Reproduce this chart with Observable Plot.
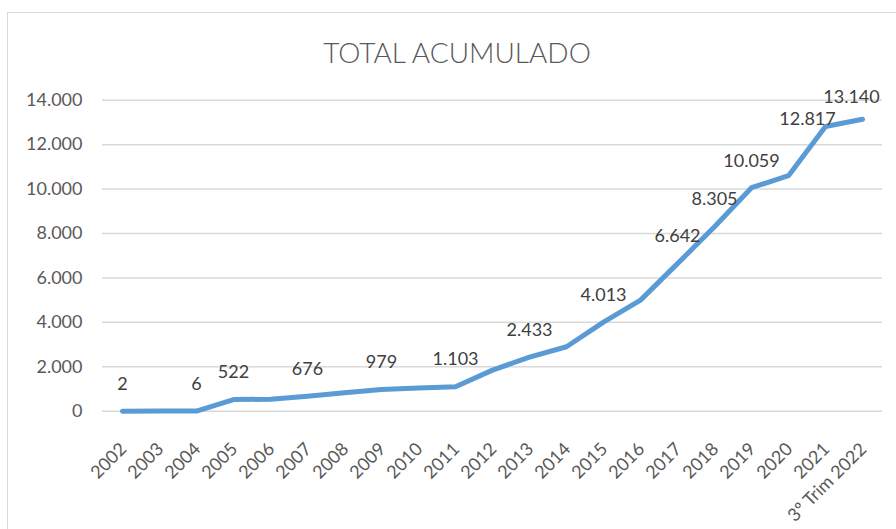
<!DOCTYPE html>
<html>
<head>
<meta charset="utf-8">
<script src="https://cdn.jsdelivr.net/npm/d3@7"></script>
<script src="https://cdn.jsdelivr.net/npm/@observablehq/plot@0.6"></script>
<style>
  html, body { margin: 0; padding: 0; background: #fff; overflow: hidden; }
  #wrap { position: relative; width: 896px; height: 529px; font-family: Lato, "Open Sans", sans-serif; }
  #border { position: absolute; left: 7px; top: 12px; width: 900px; height: 530px; border: 1.5px solid #d9d9d9; box-sizing: border-box; }
  #title { position: absolute; left: 0; width: 914px; top: 35px; text-align: center; font-size: 28px; font-weight: 300; color: #595959; line-height: 34px; }
  #chart { position: absolute; left: 0; top: 0; }
</style>
</head>
<body>
<div id="wrap">
  <div id="border"></div>
  <div id="chart"></div>
  <div id="title">TOTAL ACUMULADO</div>
</div>
<script>
const categories = ["2002","2003","2004","2005","2006","2007","2008","2009","2010","2011","2012","2013","2014","2015","2016","2017","2018","2019","2020","2021","3º Trim 2022"];
const values = [2, 4, 6, 522, 540, 676, 830, 979, 1040, 1103, 1850, 2433, 2900, 4013, 5000, 6642, 8305, 10059, 10600, 12817, 13140];
const labeled = [true, false, true, true, false, true, false, true, false, true, false, true, false, true, false, true, true, true, false, true, true];
const yTicks = [0, 2000, 4000, 6000, 8000, 10000, 12000, 14000];

const data = categories.map((c, i) => ({cat: c, value: values[i], labeled: labeled[i]}));
const fmt = d3.formatLocale({decimal: ",", thousands: ".", grouping: [3], currency: ["", ""]}).format(",d");

const last2 = data.slice(-2);
const normalLabels = data.filter(d => d.labeled && !last2.includes(d));

const chart = Plot.plot({
  width: 896,
  height: 529,
  marginLeft: 102,
  marginRight: 14,
  marginTop: 99.7,
  marginBottom: 118.3,
  style: {fontFamily: "Lato, 'Open Sans', sans-serif", background: "transparent"},
  x: {type: "point", domain: categories, padding: 0.5, axis: null},
  y: {domain: [0, 14000], axis: null},
  marks: [
    Plot.ruleY(yTicks, {stroke: "#d9d9d9", strokeWidth: 1.5}),
    Plot.text(yTicks, {y: d => d, frameAnchor: "left", text: d => fmt(d), textAnchor: "end", dx: -20, fontSize: 18, fill: "#595959"}),
    Plot.text(categories, {x: d => d, frameAnchor: "bottom", text: d => d, rotate: -45, textAnchor: "end", lineAnchor: "top", dx: -4, dy: 30, fontSize: 18, fill: "#595959"}),
    Plot.line(data, {x: "cat", y: "value", stroke: "#5B9BD5", strokeWidth: 5, strokeLinejoin: "round", strokeLinecap: "round"}),
    Plot.text(normalLabels, {x: "cat", y: "value", text: d => fmt(d.value), dy: -27, fontSize: 18, fill: "#404040"}),
    Plot.text(last2.slice(0, 1), {x: "cat", y: "value", text: d => fmt(d.value), dx: -18, dy: -7, fontSize: 18, fill: "#404040"}),
    Plot.text(last2.slice(1), {x: "cat", y: "value", text: d => fmt(d.value), dx: -11, dy: -22, fontSize: 18, fill: "#404040"})
  ]
});
document.getElementById("chart").appendChild(chart);
</script>
</body>
</html>
